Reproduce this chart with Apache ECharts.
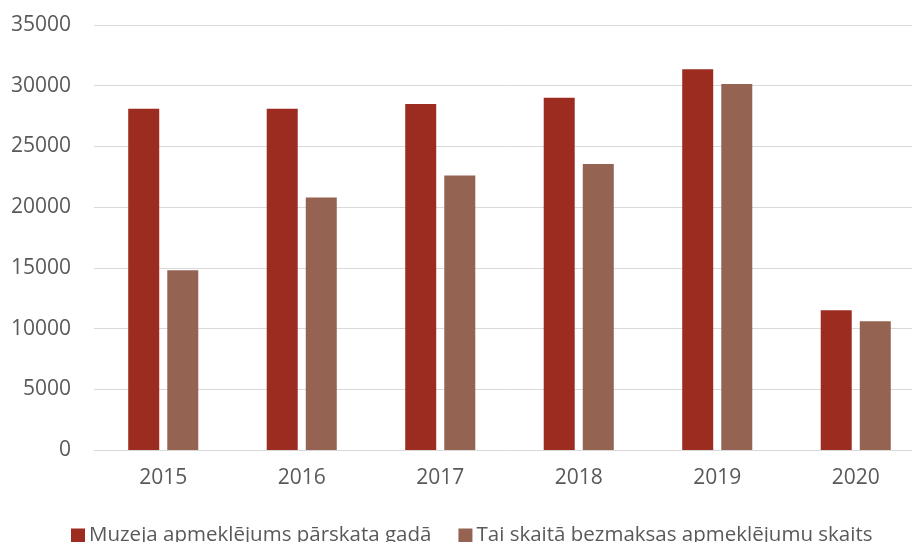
<!DOCTYPE html>
<html lang="lv">
<head>
  <meta charset="UTF-8">
  <title>Muzeja apmeklējumi 2015-2020</title>
  <script src="https://cdn.jsdelivr.net/npm/echarts@6/dist/echarts.min.js"></script>
  <style>
    html, body { margin: 0; padding: 0; overflow: hidden; background: #fff; }
    #main { width: 925px; height: 542px; }
  </style>
</head>
<body>
  <div id="main"></div>
  <script>
    // Gadi un vērtības (nolasītas no attēla)
    const gadi = ['2015', '2016', '2017', '2018', '2019', '2020'];
    const apmeklejumi = [28100, 28100, 28500, 29000, 31350, 11500];
    const bezmaksas = [14800, 20800, 22600, 23550, 30150, 10600];
    const seriesNames = ['Muzeja apmeklējums pārskata gadā', 'Tai skaitā bezmaksas apmeklējumu skaits'];
    const colors = ['#9c2b20', '#956352'];

    var myChart = echarts.init(document.getElementById('main'));
    var option = {
      animation: false,
      color: colors,
      textStyle: { fontFamily: 'Open Sans' },
      grid: { left: 94, right: 0, top: 25, bottom: 92 },
      legend: {
        data: seriesNames,
        top: 520,
        left: 66,
        itemWidth: 14,
        itemHeight: 14,
        itemGap: 27,
        icon: 'rect',
        textStyle: { fontSize: 20.5, color: '#595959', fontFamily: 'Open Sans', padding: [0, 0, 0, -1] }
      },
      xAxis: {
        type: 'category',
        data: gadi,
        axisLine: { lineStyle: { color: '#d9d9d9', width: 1 } },
        axisTick: { show: false },
        axisLabel: { color: '#595959', fontSize: 21, margin: 18 }
      },
      yAxis: {
        type: 'value',
        min: 0,
        max: 35000,
        interval: 5000,
        axisLine: { show: false },
        axisTick: { show: false },
        axisLabel: {
          color: '#595959',
          fontSize: 21,
          margin: 23,
          formatter: function (v) { return String(v); }
        },
        splitLine: { lineStyle: { color: '#d9d9d9', width: 1 } }
      },
      series: [
        {
          name: seriesNames[0],
          type: 'bar',
          data: apmeklejumi,
          barWidth: 31,
          barGap: '26%'
        },
        {
          name: seriesNames[1],
          type: 'bar',
          data: bezmaksas,
          barWidth: 31,
          barGap: '26%'
        }
      ]
    };
    myChart.setOption(option);
  </script>
</body>
</html>
